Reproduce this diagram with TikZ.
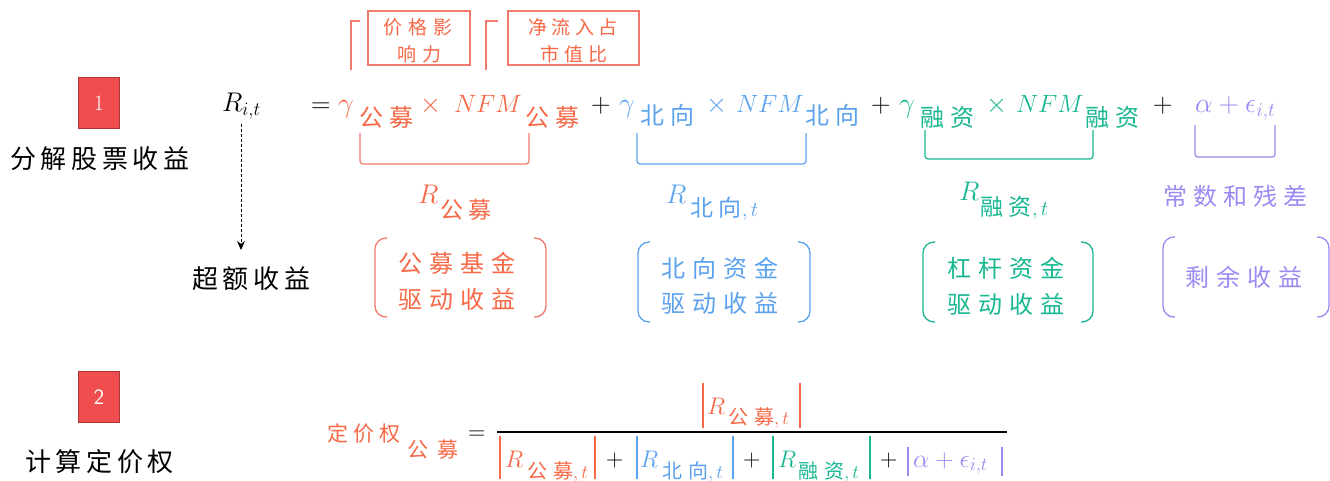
\RequirePackage{fix-cm}
\documentclass[tikz,border=0pt]{standalone}
\usepackage{fontspec}
\usetikzlibrary{arrows.meta}
\newfontfamily\cjk{Noto Sans CJK SC}
\newcommand\CJ[3]{{\fontsize{#1}{#1}\cjk\addfontfeature{LetterSpace=#2}#3}}
\newcommand\M[2]{{\fontsize{#1}{#1}\selectfont$#2$}}
\definecolor{cr}{HTML}{F76846}
\definecolor{crl}{HTML}{F27A6C}
\definecolor{cb}{HTML}{5AA2EE}
\definecolor{cg}{HTML}{17B792}
\definecolor{cp}{HTML}{9A8AF2}
\definecolor{cbox}{HTML}{F04E4E}
\definecolor{cboxd}{HTML}{A83636}
\newcommand\pbox[5]{%
  \draw[#1,line width=1.3pt,rounded corners=11pt] ({#2+12},#3) -- (#2,#3) -- (#2,#5) -- ({#2+12},#5);
  \draw[#1,line width=1.3pt,rounded corners=11pt] ({#4-12},#3) -- (#4,#3) -- (#4,#5) -- ({#4-12},#5);}
\newcommand\ubr[5]{%
  \draw[#1,line width=1.2pt,rounded corners=3pt] (#2,#3) -- (#2,#5) -- (#4,#5) -- (#4,#3);}
\begin{document}
\begin{tikzpicture}[x=1pt,y=-1pt,
  every node/.style={inner sep=0pt,outer sep=0pt},
  bw/.style={anchor=base west},
  badge/.style={fill=cbox,draw=cboxd,line width=1pt,minimum width=41pt,minimum height=51pt,text=white,font=\fontsize{22}{22}\selectfont},
  notebox/.style={draw=crl,line width=1.1pt,minimum width=102pt,minimum height=54pt}]
\useasboundingbox[fill=white] (0,0) rectangle (1330,480);

% badges and labels
\node[badge] (b1) at (99,103) {1};
\node[badge] (b2) at (99,397) {\sffamily 2};
\node[bw] (l1) at (10,168) {\CJ{26}{18}{分解股票收益}};
\node[bw] (l2) at (192,288) {\CJ{26}{18}{超额收益}};
\node[bw] (l3) at (25,471) {\CJ{26}{18}{计算定价权}};

% R_{i,t} and arrow
\node[bw] (rit) at (222,111) {\M{27}{R_{i,t}}};
\coordinate (atip) at (241,250);
\draw[line width=0.9pt,dash pattern=on 3pt off 2pt,-{Stealth[length=9pt,width=8pt]}] (rit.south -| atip) ++(0,5) -- (atip);

% top annotations
\node[notebox] (n1) at (419,38) {};
\node[notebox,minimum width=131pt] (n2) at (573.5,38) {};
\node[bw,text=cr] (n1a) at (383,34) {\CJ{19}{32}{价格影}};
\node[bw,text=cr] (n1b) at (397,61) {\CJ{19}{32}{响力}};
\node[bw,text=cr] (n2a) at (528,34) {\CJ{19}{24}{净流入占}};
\node[bw,text=cr] (n2b) at (540,61) {\CJ{19}{28}{市值比}};
\draw[crl,line width=1.1pt] (360,21) -- (351,21) -- (351,70);
\draw[crl,line width=1.1pt] (498,21) -- (486,21) -- (486,70);

% equation row
\node[bw] (eq) at (311,112) {\M{27}{=}};
\node[bw,text=cr] (g1) at (338,112) {\M{28}{\gamma}};
\node[bw,text=cr] (s1) at (359,126) {\CJ{24}{25}{公募}};
\node[bw,text=cr] (x1) at (420,112) {\M{27}{\times}};
\node[bw,text=cr] (f1) at (454,112) {\M{25}{NFM}};
\node[bw,text=cr] (s2) at (525,126) {\CJ{24}{25}{公募}};
\node[bw] (p1) at (591,112) {\M{27}{+}};
\node[bw,text=cb] (g2) at (619,112) {\M{28}{\gamma}};
\node[bw,text=cb] (s3) at (640,124) {\CJ{24}{25}{北向}};
\node[bw,text=cb] (x2) at (706,112) {\M{27}{\times}};
\node[bw,text=cb] (f2) at (736,112) {\M{25}{NFM}};
\node[bw,text=cb] (s4) at (805,124) {\CJ{24}{25}{北向}};
\node[bw] (p2) at (871,112) {\M{27}{+}};
\node[bw,text=cg] (g3) at (899,112) {\M{28}{\gamma}};
\node[bw,text=cg] (s5) at (920,126) {\CJ{24}{25}{融资}};
\node[bw,text=cg] (x3) at (986,112) {\M{27}{\times}};
\node[bw,text=cg] (f3) at (1016,112) {\M{25}{NFM}};
\node[bw,text=cg] (s6) at (1085,126) {\CJ{24}{25}{融资}};
\node[bw] (p3) at (1153,112) {\M{27}{+}};
\node[bw,text=cp] (ae) at (1195,112) {\M{28}{\alpha+\epsilon_{i,t}}};

% under brackets
\ubr{crl}{360}{133}{529}{164}
\ubr{cb}{637}{133}{806}{164}
\ubr{cg}{925}{130}{1093}{159}
\ubr{cp}{1195}{125}{1275}{157}

% second row labels
\node[bw,text=cr] (r1) at (418,203) {\M{27}{R}};
\node[bw,text=cr] (r1s) at (440,218) {\CJ{23}{25}{公募}};
\node[bw,text=cb] (r2) at (666,203) {\M{27}{R}};
\node[bw,text=cb] (r2s) at (690,216) {\CJ{23}{25}{北向}\M{21}{,t}};
\node[bw,text=cg] (r3) at (959,200) {\M{27}{R}};
\node[bw,text=cg] (r3s) at (980,215) {\CJ{23}{25}{融资}\M{21}{,t}};
\node[bw,text=cp] (r4) at (1163,205.5) {\CJ{24}{25}{常数和残差}};

% paren boxes
\pbox{crl}{375}{238}{546}{317}
\pbox{cb}{638}{242}{810}{322}
\pbox{cg}{923}{242}{1093}{322}
\pbox{cp}{1163}{237}{1329}{317}
\node[bw,text=cr] (t1a) at (398,272) {\CJ{24}{30}{公募基金}};
\node[bw,text=cr] (t1b) at (398,308) {\CJ{24}{30}{驱动收益}};
\node[bw,text=cb] (t2a) at (661,277) {\CJ{24}{30}{北向资金}};
\node[bw,text=cb] (t2b) at (661,312) {\CJ{24}{30}{驱动收益}};
\node[bw,text=cg] (t3a) at (947,277) {\CJ{24}{30}{杠杆资金}};
\node[bw,text=cg] (t3b) at (947,313) {\CJ{24}{30}{驱动收益}};
\node[bw,text=cp] (t4) at (1185,286) {\CJ{24}{30}{剩余收益}};

% pricing power formula
\node[bw,text=cr] (dj) at (327,441) {\CJ{21}{26}{定价权}};
\node[bw,text=cr] (djs) at (407,457) {\CJ{21}{45}{公募}};
\node[bw] (eq2) at (468,439) {\M{24}{=}};
\draw[line width=1.1pt] (497,432) -- (1007,432);
% numerator
\draw[cr,line width=1.2pt] (703,383) -- (703,428) (800,383) -- (800,428);
\node[bw,text=cr] (nr) at (707,414) {\M{24}{R}};
\node[bw,text=cr] (nrs) at (728,424) {\CJ{20}{30}{公募}\M{19}{,t}};
% denominator
\draw[cr,line width=1.2pt] (500,436) -- (500,479) (595,436) -- (595,479);
\node[bw,text=cr] (d1) at (505,467) {\M{24}{R}};
\node[bw,text=cr] (d1s) at (527,478.5) {\CJ{20}{30}{公募}\M{19}{,t}};
\node[bw] (dp1) at (606,466) {\M{24}{+}};
\draw[cb,line width=1.2pt] (637,436) -- (637,479) (733,436) -- (733,479);
\node[bw,text=cb] (d2) at (640,467) {\M{24}{R}};
\node[bw,text=cb] (d2s) at (662,478.5) {\CJ{20}{30}{北向}\M{19}{,t}};
\node[bw] (dp2) at (743,466) {\M{24}{+}};
\draw[cg,line width=1.2pt] (773,436) -- (773,479) (870,436) -- (870,479);
\node[bw,text=cg] (d3) at (778,467) {\M{24}{R}};
\node[bw,text=cg] (d3s) at (798,478.5) {\CJ{20}{30}{融资}\M{19}{,t}};
\node[bw] (dp3) at (880,466) {\M{24}{+}};
\draw[cp,line width=1.2pt] (908,447) -- (908,476) (1002,447) -- (1002,476);
\node[bw,text=cp] (d4) at (913,467) {\M{26}{\alpha+\epsilon_{i,t}}};
\end{tikzpicture}
\end{document}
